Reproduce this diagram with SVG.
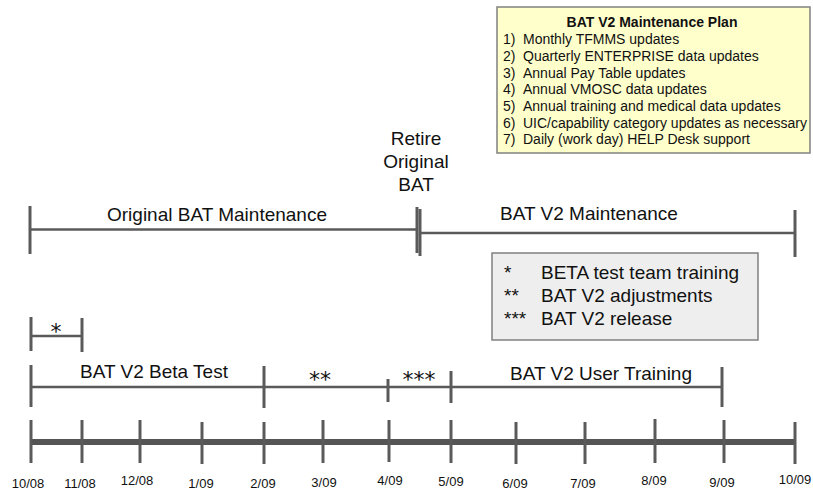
<svg xmlns="http://www.w3.org/2000/svg" width="813" height="491" viewBox="0 0 813 491">
  <style>
    text { font-family: "Liberation Sans", Arial, sans-serif; fill: #111; }
    .big { font-size: 19px; }
    .plan { font-size: 14px; }
    .title { font-size: 14px; font-weight: bold; }
    .date { font-size: 13px; text-anchor: middle; }
    .mid { text-anchor: middle; }
    .star { font-family: "DejaVu Sans", sans-serif; font-size: 22px; text-anchor: middle; }
    .bar { stroke: #5a5a5a; stroke-width: 3; fill: none; }
    .span { stroke: #5a5a5a; stroke-width: 2.5; fill: none; }
    .axis { stroke: #555; stroke-width: 6; fill: none; }
  </style>

  <!-- maintenance plan box -->
  <g id="plan">
    <rect x="497" y="7" width="313" height="146" fill="#ffffcc" stroke="#808080" stroke-width="1.5"/>
    <text class="title mid" x="652" y="27">BAT V2 Maintenance Plan</text>
    <text class="plan" x="503" y="44">1)</text><text class="plan" x="523" y="44">Monthly TFMMS updates</text>
    <text class="plan" x="503" y="61">2)</text><text class="plan" x="523" y="61">Quarterly ENTERPRISE data updates</text>
    <text class="plan" x="503" y="77.5">3)</text><text class="plan" x="523" y="77.5">Annual Pay Table updates</text>
    <text class="plan" x="503" y="94">4)</text><text class="plan" x="523" y="94">Annual VMOSC data updates</text>
    <text class="plan" x="503" y="111">5)</text><text class="plan" x="523" y="111">Annual training and medical data updates</text>
    <text class="plan" x="503" y="127.5">6)</text><text class="plan" x="523" y="127.5">UIC/capability category updates as necessary</text>
    <text class="plan" x="503" y="144">7)</text><text class="plan" x="523" y="144">Daily (work day) HELP Desk support</text>
  </g>

  <!-- retirement marker -->
  <g id="retire">
    <text class="big mid" x="416" y="145">Retire</text>
    <text class="big mid" x="416" y="168">Original</text>
    <text class="big mid" x="416" y="191">BAT</text>
  </g>

  <!-- legend -->
  <g id="legend">
    <rect x="492" y="253" width="266" height="87" fill="#eeeeee" stroke="#808080" stroke-width="1.5"/>
    <text class="big" x="504" y="279">*</text><text class="big" x="541" y="279">BETA test team training</text>
    <text class="big" x="504" y="302">**</text><text class="big" x="541" y="302">BAT V2 adjustments</text>
    <text class="big" x="504" y="325">***</text><text class="big" x="541" y="325">BAT V2 release</text>
  </g>

  <g id="connectors">
    <!-- maintenance periods -->
    <line class="span" x1="30" y1="229.5" x2="417" y2="229.5" stroke-width="3"/>
    <line class="span" x1="420" y1="233" x2="795" y2="233" stroke-width="3"/>
    <line class="bar" x1="30" y1="206" x2="30" y2="254"/>
    <line class="bar" x1="417" y1="207" x2="417" y2="253"/>
    <line class="bar" x1="420" y1="209" x2="420" y2="256"/>
    <line class="bar" x1="795" y1="210" x2="795" y2="257"/>

    <!-- team training -->
    <line class="span" x1="31" y1="336" x2="82" y2="336"/>
    <line class="bar" x1="31" y1="317" x2="31" y2="351"/>
    <line class="bar" x1="82" y1="318" x2="82" y2="352"/>

    <!-- beta test, adjustments, release, user training -->
    <line class="span" x1="31" y1="387" x2="722" y2="387"/>
    <line class="bar" x1="31" y1="365" x2="31" y2="407"/>
    <line class="bar" x1="264" y1="366" x2="264" y2="408"/>
    <line class="bar" x1="388" y1="379" x2="388" y2="402"/>
    <line class="bar" x1="451" y1="371" x2="451" y2="403"/>
    <line class="bar" x1="722" y1="367" x2="722" y2="407"/>

    <!-- month axis -->
    <line class="axis" x1="30" y1="442" x2="795" y2="442"/>
    <g class="bar">
      <line x1="31" y1="420" x2="31" y2="463"/>
      <line x1="82" y1="420" x2="82" y2="463"/>
      <line x1="140" y1="420" x2="140" y2="463"/>
      <line x1="202" y1="422" x2="202" y2="464"/>
      <line x1="264" y1="422" x2="264" y2="464"/>
      <line x1="323" y1="420" x2="323" y2="463"/>
      <line x1="389" y1="420" x2="389" y2="462"/>
      <line x1="451" y1="420" x2="451" y2="463"/>
      <line x1="516" y1="422" x2="516" y2="464"/>
      <line x1="585" y1="422" x2="585" y2="464"/>
      <line x1="655" y1="419" x2="655" y2="463"/>
      <line x1="724" y1="420" x2="724" y2="463"/>
      <line x1="795" y1="422" x2="795" y2="464"/>
    </g>
  </g>

  <!-- period labels -->
  <g id="labels">
    <text class="big mid" x="217" y="221">Original BAT Maintenance</text>
    <text class="big mid" x="589" y="220">BAT V2 Maintenance</text>
    <text class="star" x="56" y="339">*</text>
    <text class="big mid" x="154" y="378">BAT V2 Beta Test</text>
    <text class="star" x="320" y="387">**</text>
    <text class="star" x="419" y="387">***</text>
    <text class="big mid" x="601" y="380">BAT V2 User Training</text>
  </g>

  <!-- month labels -->
  <g id="months">
    <text class="date" x="28" y="487.5">10/08</text>
    <text class="date" x="80" y="487.5">11/08</text>
    <text class="date" x="137" y="485">12/08</text>
    <text class="date" x="201" y="488">1/09</text>
    <text class="date" x="263" y="487.5">2/09</text>
    <text class="date" x="324" y="487">3/09</text>
    <text class="date" x="390" y="485">4/09</text>
    <text class="date" x="451" y="486">5/09</text>
    <text class="date" x="515" y="488">6/09</text>
    <text class="date" x="583" y="488">7/09</text>
    <text class="date" x="654" y="485">8/09</text>
    <text class="date" x="722" y="487">9/09</text>
    <text class="date" x="795" y="484">10/09</text>
  </g>
</svg>
